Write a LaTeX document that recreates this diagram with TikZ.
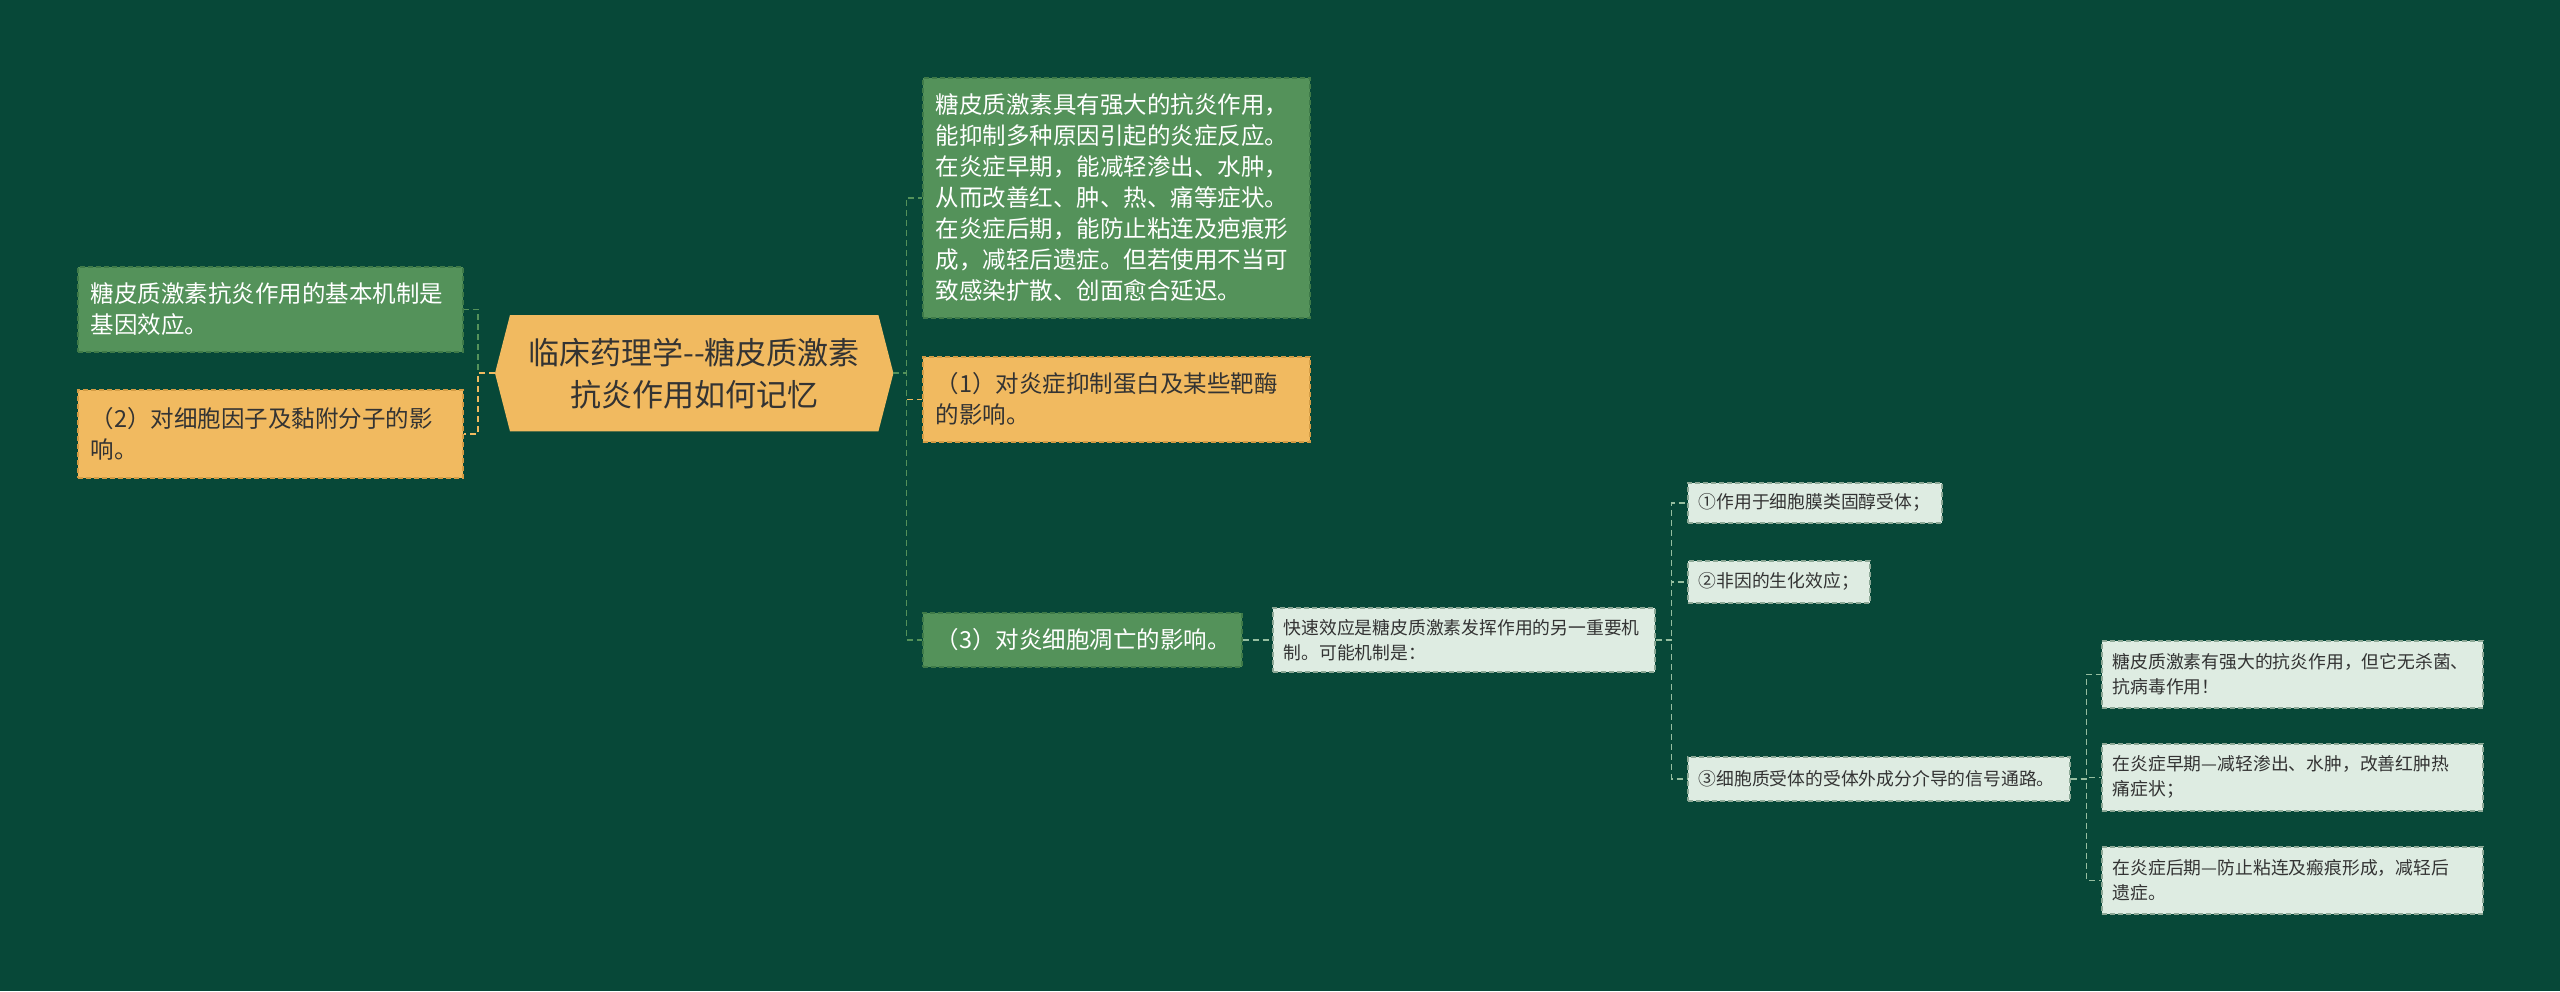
\documentclass[tikz,border=0pt]{standalone}
\usepackage{fontspec}
\setmainfont{Noto Sans CJK SC}
\usepackage{xcolor}
\usepackage{tikz}
\usetikzlibrary{backgrounds}
\definecolor{boardgreen}{RGB}{7, 72, 56}
\definecolor{leafgreen}{RGB}{84, 146, 90}
\definecolor{leafgreenline}{RGB}{62, 122, 72}
\definecolor{warmorange}{RGB}{241, 186, 96}
\definecolor{warmorangeline}{RGB}{212, 156, 68}
\definecolor{palemint}{RGB}{222, 236, 226}
\definecolor{palemintline}{RGB}{140, 168, 150}
\definecolor{mintlink}{RGB}{150, 190, 160}
\definecolor{inkgray}{RGB}{51, 51, 51}

\tikzset{
    topic/.style={draw, dash pattern=on 5pt off 3pt, line width=1.5pt, anchor=north west, inner xsep=13pt, inner ysep=0pt, align=left},
    greentopic/.style={topic, fill=leafgreen, draw=leafgreenline, text=white, font=\fontsize{23.5}{31}\selectfont},
    orangetopic/.style={topic, fill=warmorange, draw=warmorangeline, text=inkgray, font=\fontsize{23.5}{31}\selectfont},
    minttopic/.style={topic, inner xsep=11pt, fill=palemint, draw=palemintline, text=inkgray, font=\fontsize{17.8}{25}\selectfont},
    link/.style={dash pattern=on 6pt off 4pt, line width=1.5pt}
}

\begin{document}
\begin{tikzpicture}[x=1pt, y=-1pt]
    \useasboundingbox (0,0) rectangle (2560,991);

    \node (root) [anchor=north west, minimum width=398, minimum height=116, inner sep=0pt, align=center, text=inkgray, font=\fontsize{31}{42}\selectfont] at (495,315) {临床药理学-{}-糖皮质激素\\抗炎作用如何记忆};

    \node (genebox) [greentopic, text width=359, minimum height=85] at (77,266) {糖皮质激素抗炎作用的基本机制是\\基因效应。};
    \node (cytokine) [orangetopic, text width=359, minimum height=88] at (77,389) {（2）对细胞因子及黏附分子的影\\响。};

    \node (bignote) [greentopic, text width=361, minimum height=240] at (922,77) {糖皮质激素具有强大的抗炎作用，\\能抑制多种原因引起的炎症反应。\\在炎症早期，能减轻渗出、水肿，\\从而改善红、肿、热、痛等症状。\\在炎症后期，能防止粘连及疤痕形\\成，减轻后遗症。但若使用不当可\\致感染扩散、创面愈合延迟。};
    \node (inhibit) [orangetopic, text width=361, minimum height=85] at (922,356) {（1）对炎症抑制蛋白及某些靶酶\\的影响。};
    \node (apoptosis) [greentopic, text width=293, minimum height=54] at (922,612) {（3）对炎细胞凋亡的影响。};

    \node (quick) [minttopic, text width=360, minimum height=64] at (1272,607) {快速效应是糖皮质激素发挥作用的另一重要机\\制。可能机制是：};

    \node (way1) [minttopic, text width=232, minimum height=40] at (1687,482) {①作用于细胞膜类固醇受体；};
    \node (way2) [minttopic, text width=160, minimum height=42] at (1687,560) {②非因的生化效应；};
    \node (way3) [minttopic, text width=360, minimum height=44] at (1687,756) {③细胞质受体的受体外成分介导的信号通路。};

    \node (antiviral) [minttopic, text width=359, minimum height=67] at (2101,640) {糖皮质激素有强大的抗炎作用，但它无杀菌、\\抗病毒作用！};
    \node (earlystage) [minttopic, text width=359, minimum height=67] at (2101,743) {在炎症早期—减轻渗出、水肿，改善红肿热\\痛症状；};
    \node (latestage) [minttopic, text width=359, minimum height=67] at (2101,846) {在炎症后期—防止粘连及瘢痕形成，减轻后\\遗症。};

    \draw[link, leafgreen] (root.west) -- ++(-17,0) |- (genebox.east);
    \draw[link, warmorange] (root.west) -- ++(-17,0) |- (cytokine.east);
    \draw[link, leafgreen] (root.east) -- ++(13,0) |- (bignote.west);
    \draw[link, warmorange] (root.east) -- ++(13,0) |- (inhibit.west);
    \draw[link, leafgreen] (root.east) -- ++(13,0) |- (apoptosis.west);
    \draw[link, mintlink] (apoptosis.east) -- (quick.west);
    \draw[link, mintlink] (quick.east) -- ++(16,0) |- (way1.west);
    \draw[link, mintlink] (quick.east) -- ++(16,0) |- (way2.west);
    \draw[link, mintlink] (quick.east) -- ++(16,0) |- (way3.west);
    \draw[link, mintlink] (way3.east) -- ++(16,0) |- (antiviral.west);
    \draw[link, mintlink] (way3.east) -- ++(16,0) |- (earlystage.west);
    \draw[link, mintlink] (way3.east) -- ++(16,0) |- (latestage.west);

    \begin{scope}[on background layer]
        \fill[boardgreen] (0,0) rectangle (2560,991);
        \fill[warmorange] ([xshift=15pt]root.north west) -- ([xshift=-15pt]root.north east) -- (root.east) -- ([xshift=-15pt]root.south east) -- ([xshift=15pt]root.south west) -- (root.west) -- cycle;
    \end{scope}
\end{tikzpicture}
\end{document}
